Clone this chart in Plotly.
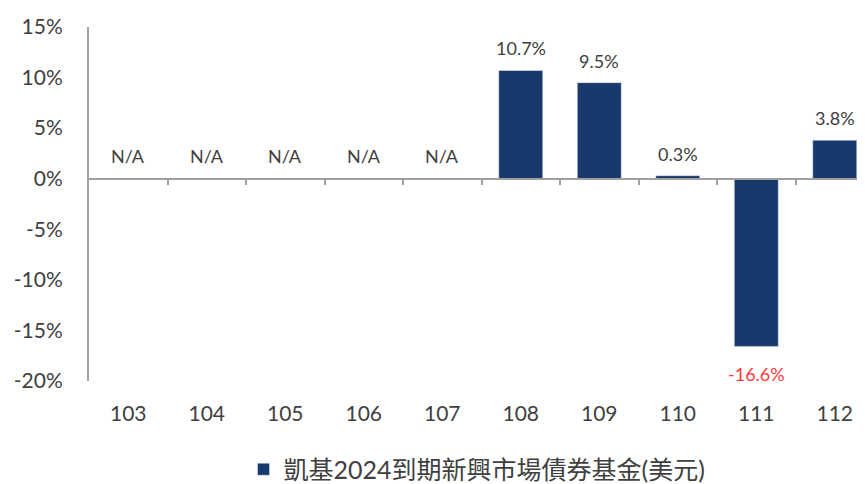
import plotly.graph_objects as go

categories = ["103", "104", "105", "106", "107", "108", "109", "110", "111", "112"]
values = [None, None, None, None, None, 10.7, 9.5, 0.3, -16.6, 3.8]
label_text = ["N/A", "N/A", "N/A", "N/A", "N/A", "10.7%", "9.5%", "0.3%", "-16.6%", "3.8%"]
series_name = "凱基2024到期新興市場債券基金(美元)"
y_ticks = [15, 10, 5, 0, -5, -10, -15, -20]
y_tick_text = ["15%", "10%", "5%", "0%", "-5%", "-10%", "-15%", "-20%"]

BAR = "#17396B"
GRAY = "#A0A0A0"
TXT = "#404040"
FONT = "Lato, 'Noto Sans CJK TC', sans-serif"

xs = list(range(len(categories)))
fig = go.Figure()
fig.add_trace(go.Bar(x=xs, y=values, marker_color=BAR, width=0.56, name=series_name,
                     showlegend=True))
# invisible trace for the zero-line tick axis
fig.add_trace(go.Scatter(x=[0], y=[0], xaxis="x2", mode="markers",
                         marker=dict(opacity=0), showlegend=False, hoverinfo="skip"))

for x, v, t in zip(xs, values, label_text):
    if v is None:
        fig.add_annotation(x=x, y=0, text=t, showarrow=False, yshift=23,
                           font=dict(size=18, color=TXT, family=FONT))
    elif v >= 0:
        fig.add_annotation(x=x, y=v, text=t, showarrow=False, yshift=22,
                           font=dict(size=18, color=TXT, family=FONT))
    else:
        fig.add_annotation(x=x, y=v, text=t, showarrow=False, yshift=-27,
                           font=dict(size=18, color="#FF3B3B", family=FONT))

xr = [-0.5, 9.385]
fig.update_layout(
    width=857, height=476,
    margin=dict(l=81, r=0, t=19, b=103, autoexpand=False),
    paper_bgcolor="white", plot_bgcolor="white",
    font=dict(family=FONT, color=TXT),
    xaxis=dict(range=xr, tickvals=xs, ticktext=categories, showgrid=False,
               zeroline=False, showline=False, ticks="", automargin=False,
               ticklabelstandoff=18,
               tickfont=dict(size=21, color=TXT, family=FONT)),
    xaxis2=dict(range=xr, overlaying="x", anchor="free", position=20 / 35,
                tickvals=[i + 0.5 for i in xs[:-1]], ticks="outside", ticklen=5,
                tickcolor=GRAY, tickwidth=1.5, showticklabels=False,
                showline=True, linecolor=GRAY, linewidth=2, showgrid=False,
                zeroline=False, automargin=False),
    yaxis=dict(range=[-20, 15], tickvals=y_ticks, ticktext=y_tick_text,
               showgrid=False, zeroline=False, showline=True, linecolor=GRAY,
               linewidth=2, ticks="", ticklabelstandoff=20, automargin=False,
               tickfont=dict(size=21, color=TXT, family=FONT)),
    legend=dict(orientation="h", x=0.5, xanchor="center", y=-0.185, yanchor="top",
                font=dict(size=25, color=TXT, family=FONT), itemwidth=30),
    bargap=0.44,
)
fig.write_html("out.html")
